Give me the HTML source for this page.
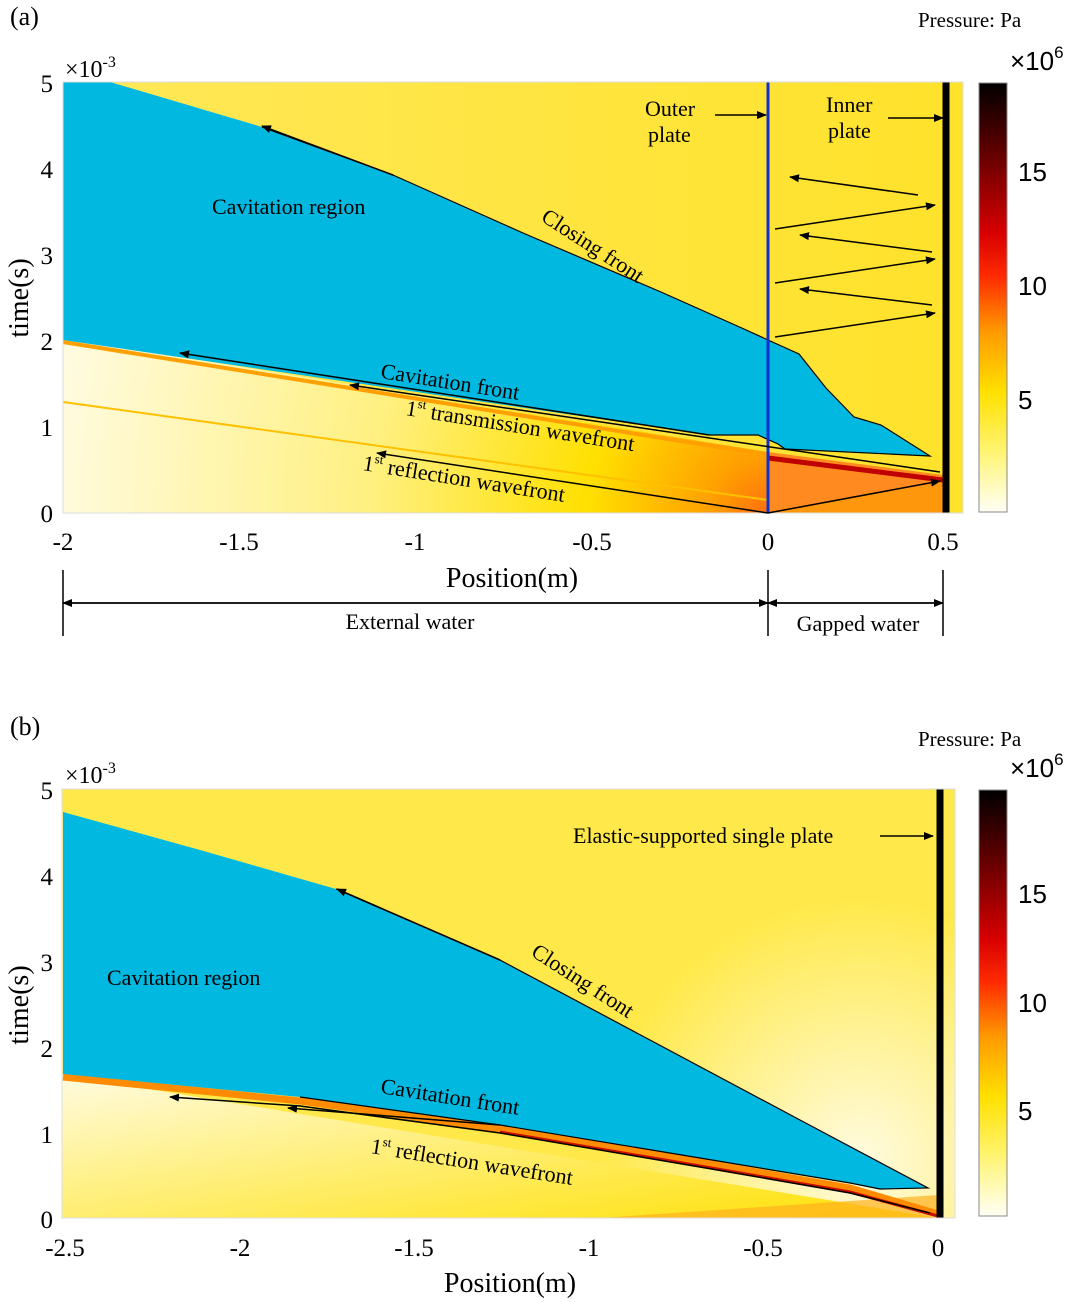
<!DOCTYPE html>
<html><head><meta charset="utf-8"><style>
body{margin:0;background:#fff;}
svg{display:block;font-family:"Liberation Serif",serif;}
</style></head><body>
<svg width="1080" height="1302" viewBox="0 0 1080 1302" xmlns="http://www.w3.org/2000/svg">
<defs>
<linearGradient id="cb" x1="0" y1="1" x2="0" y2="0">
<stop offset="0" stop-color="#fffff5"/><stop offset="0.15" stop-color="#fff36a"/><stop offset="0.28" stop-color="#ffe000"/><stop offset="0.42" stop-color="#ff9a00"/><stop offset="0.55" stop-color="#ff2a00"/><stop offset="0.65" stop-color="#d80000"/><stop offset="0.85" stop-color="#5a0000"/><stop offset="1" stop-color="#000"/>
</linearGradient>
<linearGradient id="bga" x1="0" y1="0" x2="1" y2="0">
<stop offset="0" stop-color="#ffe85a"/><stop offset="1" stop-color="#ffe22a"/>
</linearGradient>
<radialGradient id="hota" cx="768" cy="513" r="720" gradientUnits="userSpaceOnUse">
<stop offset="0" stop-color="#ff7010"/><stop offset="0.08" stop-color="#ffa000"/><stop offset="0.25" stop-color="#ffe000"/><stop offset="0.55" stop-color="#fff080"/><stop offset="1" stop-color="#fffbe0"/>
</radialGradient>
<radialGradient id="paleb" cx="860" cy="1160" r="260" gradientUnits="userSpaceOnUse">
<stop offset="0" stop-color="#fffbe0"/><stop offset="1" stop-color="#fffbe0" stop-opacity="0"/>
</radialGradient>
<linearGradient id="lowb" x1="0" y1="0" x2="1" y2="1">
<stop offset="0" stop-color="#fffbe0"/><stop offset="1" stop-color="#ffe000"/>
</linearGradient>
<marker id="ar" markerWidth="10" markerHeight="8" refX="9" refY="4" orient="auto" markerUnits="userSpaceOnUse"><path d="M0,0 L10,4 L0,8 z" fill="#000"/></marker>
</defs>

<!-- Panel a -->
<text x="10" y="25" font-size="26">(a)</text>
<text x="918" y="27" font-size="21">Pressure: Pa</text>
<rect x="63" y="82" width="900" height="431" fill="url(#bga)"/>
<polygon points="63,338 768,452 768,513 63,513" fill="url(#hota)"/>
<polygon points="768,452 943,475 943,513 768,513" fill="#ff8a20"/>
<polygon points="768,513 943,482 943,513" fill="#ffa000" opacity="0.6"/>
<line x1="63" y1="342" x2="768" y2="455" stroke="#ffa000" stroke-width="4"/>
<line x1="63" y1="402" x2="768" y2="500" stroke="#ffc000" stroke-width="2"/>
<line x1="768" y1="458" x2="943" y2="480" stroke="#c00000" stroke-width="5"/>
<polygon points="63,82 110,82 262,127 393,175 523,233 661,292 744,329 768,340 799,354 826,388 854,417 881,425 930,456 923,456 785,449 778,444 758,435 709,435 63,340" fill="#00b8e0"/>
<path d="M262,127 L393,175 L523,233 L661,292 L744,329 L768,340 L799,354 L826,388 L854,417 L881,425 L930,456 L785,449 L778,444 L758,435 L709,435" fill="none" stroke="#000" stroke-width="1.2"/>
<line x1="768" y1="82" x2="768" y2="513" stroke="#1030d0" stroke-width="3"/>
<line x1="946" y1="82" x2="946" y2="513" stroke="#000" stroke-width="7"/>
<rect x="63" y="82" width="900" height="431" fill="none" stroke="#ddd" stroke-width="1"/>
<g stroke="#000" stroke-width="1.5" marker-end="url(#ar)">
<line x1="709" y1="435" x2="180" y2="353"/>
<line x1="940" y1="472" x2="350" y2="385"/>
<line x1="768" y1="513" x2="377" y2="453"/>
<line x1="768" y1="513" x2="940" y2="481"/>
<line x1="393" y1="175" x2="262" y2="126"/>
<line x1="775" y1="337" x2="935" y2="313"/>
<line x1="932" y1="305" x2="800" y2="289"/>
<line x1="775" y1="283" x2="935" y2="259"/>
<line x1="932" y1="252" x2="800" y2="235"/>
<line x1="775" y1="229" x2="935" y2="205"/>
<line x1="918" y1="195" x2="790" y2="177"/>
<line x1="715" y1="115" x2="766" y2="115"/>
<line x1="888" y1="118" x2="943" y2="118"/>
</g>
<text x="212" y="214" font-size="22">Cavitation region</text>
<text font-size="22" transform="translate(540,220) rotate(33)">Closing front</text>
<text font-size="22" transform="translate(380,378) rotate(9)">Cavitation front</text>
<text font-size="22" transform="translate(405,415) rotate(9)">1<tspan font-size="13" dy="-9">st</tspan><tspan dy="9"> transmission wavefront</tspan></text>
<text font-size="22" transform="translate(362,470) rotate(9)">1<tspan font-size="13" dy="-9">st</tspan><tspan dy="9"> reflection wavefront</tspan></text>
<text x="645" y="116" font-size="22">Outer</text><text x="648" y="142" font-size="22">plate</text>
<text x="826" y="112" font-size="22">Inner</text><text x="828" y="138" font-size="22">plate</text>
<g font-size="25" text-anchor="end"><text x="53" y="92">5</text><text x="53" y="178">4</text><text x="53" y="264">3</text><text x="53" y="350">2</text><text x="53" y="436">1</text><text x="53" y="522">0</text></g>
<text x="65" y="77" font-size="24">×10<tspan font-size="16" dy="-10">-3</tspan></text>
<g font-size="25" text-anchor="middle"><text x="63" y="550">-2</text><text x="239" y="550">-1.5</text><text x="415" y="550">-1</text><text x="592" y="550">-0.5</text><text x="768" y="550">0</text><text x="943" y="550">0.5</text></g>
<text x="512" y="587" font-size="28" text-anchor="middle">Position(m)</text>
<text font-size="28" text-anchor="middle" transform="translate(28,298) rotate(-90)">time(s)</text>
<rect x="979" y="83" width="28" height="429" fill="url(#cb)" stroke="#888"/>
<g font-size="26" font-family="Liberation Sans,sans-serif"><text x="1018" y="181">15</text><text x="1018" y="295">10</text><text x="1018" y="409">5</text></g>
<text x="1010" y="70" font-size="26" font-family="Liberation Sans,sans-serif">×10<tspan font-size="17" dy="-12">6</tspan></text>
<g stroke="#000" stroke-width="1.5">
<line x1="63" y1="570" x2="63" y2="636"/><line x1="768" y1="570" x2="768" y2="636"/><line x1="943" y1="570" x2="943" y2="636"/>
<line x1="63" y1="603" x2="768" y2="603" marker-end="url(#ar)"/><line x1="768" y1="603" x2="63" y2="603" marker-end="url(#ar)"/>
<line x1="768" y1="603" x2="943" y2="603" marker-end="url(#ar)"/><line x1="943" y1="603" x2="768" y2="603" marker-end="url(#ar)"/>
</g>
<text x="410" y="629" font-size="22" text-anchor="middle">External water</text>
<text x="858" y="631" font-size="22" text-anchor="middle">Gapped water</text>

<!-- Panel b -->
<text x="10" y="735" font-size="26">(b)</text>
<text x="918" y="746" font-size="21">Pressure: Pa</text>
<rect x="62" y="789" width="893" height="429" fill="#ffe94a"/>
<rect x="62" y="789" width="893" height="429" fill="url(#paleb)"/>
<polygon points="62,1075 62,1218 938,1218" fill="url(#lowb)"/>
<polygon points="600,1218 938,1218 938,1195" fill="#ffb020" opacity="0.7"/>
<polyline points="63,1077 300,1101 500,1129 700,1162 850,1188 938,1214" fill="none" stroke="#ff8c00" stroke-width="7"/>
<polyline points="500,1132 700,1166 850,1192 938,1216" fill="none" stroke="#c81000" stroke-width="3"/>
<polygon points="63,812 200,850 336,889 500,960 650,1040 800,1120 928,1188 880,1189 850,1183 700,1158 500,1125 300,1097 63,1074" fill="#00b8e0"/>
<path d="M336,889 L500,960 L650,1040 L800,1120 L928,1188 L880,1189 L850,1183 L700,1158 L500,1125 L300,1097" fill="none" stroke="#000" stroke-width="1.2"/>
<path d="M930,1213 L850,1193 L700,1167 L500,1133 L300,1106 L170,1097" fill="none" stroke="#000" stroke-width="1.5" marker-end="url(#ar)"/>
<line x1="500" y1="1125" x2="288" y2="1108" stroke="#000" stroke-width="1.5" marker-end="url(#ar)"/>
<line x1="500" y1="960" x2="337" y2="889" stroke="#000" stroke-width="1.5" marker-end="url(#ar)"/>
<line x1="880" y1="836" x2="933" y2="836" stroke="#000" stroke-width="1.5" marker-end="url(#ar)"/>
<line x1="940" y1="789" x2="940" y2="1218" stroke="#000" stroke-width="7"/>
<rect x="62" y="789" width="893" height="429" fill="none" stroke="#ddd"/>
<text x="107" y="985" font-size="22">Cavitation region</text>
<text font-size="22" transform="translate(530,955) rotate(33)">Closing front</text>
<text font-size="22" transform="translate(380,1093) rotate(9)">Cavitation front</text>
<text font-size="22" transform="translate(370,1153) rotate(9)">1<tspan font-size="13" dy="-9">st</tspan><tspan dy="9"> reflection wavefront</tspan></text>
<text x="573" y="843" font-size="22">Elastic-supported single plate</text>
<g font-size="25" text-anchor="end"><text x="53" y="799">5</text><text x="53" y="885">4</text><text x="53" y="971">3</text><text x="53" y="1057">2</text><text x="53" y="1143">1</text><text x="53" y="1228">0</text></g>
<text x="65" y="783" font-size="24">×10<tspan font-size="16" dy="-10">-3</tspan></text>
<g font-size="25" text-anchor="middle"><text x="65" y="1256">-2.5</text><text x="240" y="1256">-2</text><text x="414" y="1256">-1.5</text><text x="589" y="1256">-1</text><text x="763" y="1256">-0.5</text><text x="938" y="1256">0</text></g>
<text x="510" y="1292" font-size="28" text-anchor="middle">Position(m)</text>
<text font-size="28" text-anchor="middle" transform="translate(28,1005) rotate(-90)">time(s)</text>
<rect x="979" y="790" width="28" height="426" fill="url(#cb)" stroke="#888"/>
<g font-size="26" font-family="Liberation Sans,sans-serif"><text x="1018" y="903">15</text><text x="1018" y="1012">10</text><text x="1018" y="1120">5</text></g>
<text x="1010" y="777" font-size="26" font-family="Liberation Sans,sans-serif">×10<tspan font-size="17" dy="-12">6</tspan></text>
</svg>
</body></html>
